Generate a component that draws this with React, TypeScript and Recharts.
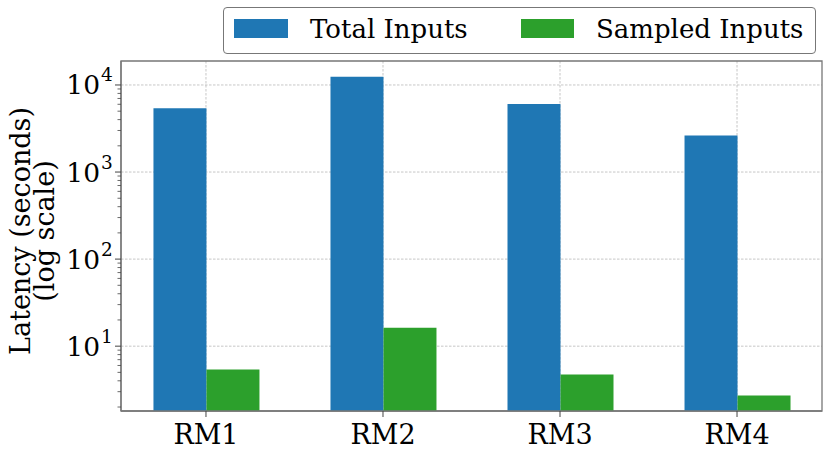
import { BarChart, Bar, XAxis, YAxis, CartesianGrid, ReferenceArea } from "recharts";

const categories = ["RM1", "RM2", "RM3", "RM4"];
const totalInputs = [5400, 12450, 6050, 2620];
const sampledInputs = [5.4, 16.3, 4.73, 2.72];
const majorTicks = [10, 100, 1000, 10000];
const minorTicks = [
  2, 3, 4, 5, 6, 7, 8, 9,
  20, 30, 40, 50, 60, 70, 80, 90,
  200, 300, 400, 500, 600, 700, 800, 900,
  2000, 3000, 4000, 5000, 6000, 7000, 8000, 9000,
];

const data = categories.map((name, i) => ({
  idx: i,
  name,
  total: totalInputs[i],
  sampled: sampledInputs[i],
}));

const BLUE = "#1f77b4";
const GREEN = "#2ca02c";
const FONT = "DejaVu Serif";
const AXIS_X = 121;

const YTick = ({ y, payload }: any) => {
  const v = payload.value;
  const major = majorTicks.includes(v);
  const exp = Math.round(Math.log10(v));
  return (
    <g>
      <line x1={AXIS_X} x2={AXIS_X - (major ? 6 : 3.5)} y1={y} y2={y} stroke="#444" strokeWidth={major ? 1 : 0.8} />
      {major && (
        <text x={100} y={y} textAnchor="end" dominantBaseline="central" fontFamily={FONT} fontSize={26.5} fill="#000">
          10
        </text>
      )}
      {major && (
        <text x={101} y={y - 10} textAnchor="start" dominantBaseline="central" fontFamily={FONT} fontSize={18.5} fill="#000">
          {exp}
        </text>
      )}
    </g>
  );
};

const XTick = ({ x, payload }: any) => (
  <g>
    <line x1={x} x2={x} y1={411} y2={417} stroke="#444" />
    <text x={x} y={444} textAnchor="middle" fontFamily={FONT} fontSize={27} fill="#000">
      {categories[payload.value]}
    </text>
  </g>
);

const LegendBox = () => (
  <div
    style={{
      position: "absolute",
      left: 223,
      top: 7,
      width: 593,
      height: 47,
      border: "1.3px solid #777",
      borderRadius: 4,
      background: "#fff",
      boxSizing: "border-box",
      fontFamily: FONT,
      fontSize: 26,
      color: "#000",
    }}
  >
    <div style={{ position: "absolute", left: 10, top: 11, width: 54, height: 18.5, background: BLUE }} />
    <div style={{ position: "absolute", left: 86, top: 3, lineHeight: "36px", whiteSpace: "nowrap" }}>Total Inputs</div>
    <div style={{ position: "absolute", left: 297, top: 11, width: 53, height: 18.5, background: GREEN }} />
    <div style={{ position: "absolute", left: 372, top: 3, lineHeight: "36px", whiteSpace: "nowrap" }}>Sampled Inputs</div>
  </div>
);

const YLabel = () => (
  <g fontFamily={FONT} fontSize={27} fill="#000">
    <text x={30} y={231} textAnchor="middle" transform="rotate(-90, 30, 231)">
      Latency (seconds)
    </text>
    <text x={54} y={231} textAnchor="middle" transform="rotate(-90, 54, 231)">
      (log scale)
    </text>
  </g>
);

export default function App() {
  return (
    <div style={{ position: "fixed", left: 0, top: 0, width: 830, height: 452, background: "#fff" }}>
      <BarChart
        width={830}
        height={452}
        data={data}
        margin={{ top: 61, right: 8, bottom: 0, left: 0 }}
        barGap={0}
      >
        <CartesianGrid
          stroke="#b8b8b8"
          strokeDasharray="2.5 1.5"
          strokeWidth={0.8}
          horizontalValues={majorTicks}
          verticalValues={[0, 1, 2, 3]}
        />
        <XAxis
          dataKey="idx"
          type="number"
          domain={[-0.48, 3.48]}
          ticks={[0, 1, 2, 3]}
          interval={0}
          height={41}
          axisLine={{ stroke: "#777", strokeWidth: 1.3 }}
          tickLine={false}
          tick={<XTick />}
        />
        <YAxis
          scale="log"
          domain={[1.8, 18850]}
          allowDataOverflow
          ticks={[...minorTicks, ...majorTicks].sort((a, b) => a - b)}
          interval={0}
          width={121}
          axisLine={{ stroke: "#777", strokeWidth: 1.3 }}
          tickLine={false}
          tick={<YTick />}
          label={<YLabel />}
        />
        <ReferenceArea
          x1={-0.48}
          x2={3.48}
          y1={1.8}
          y2={18850}
          fill="none"
          stroke="#777"
          strokeWidth={1.3}
          ifOverflow="visible"
        />
        <Bar dataKey="total" name="Total Inputs" fill={BLUE} barSize={53} isAnimationActive={false} />
        <Bar dataKey="sampled" name="Sampled Inputs" fill={GREEN} barSize={53} isAnimationActive={false} />
      </BarChart>
      <LegendBox />
    </div>
  );
}
